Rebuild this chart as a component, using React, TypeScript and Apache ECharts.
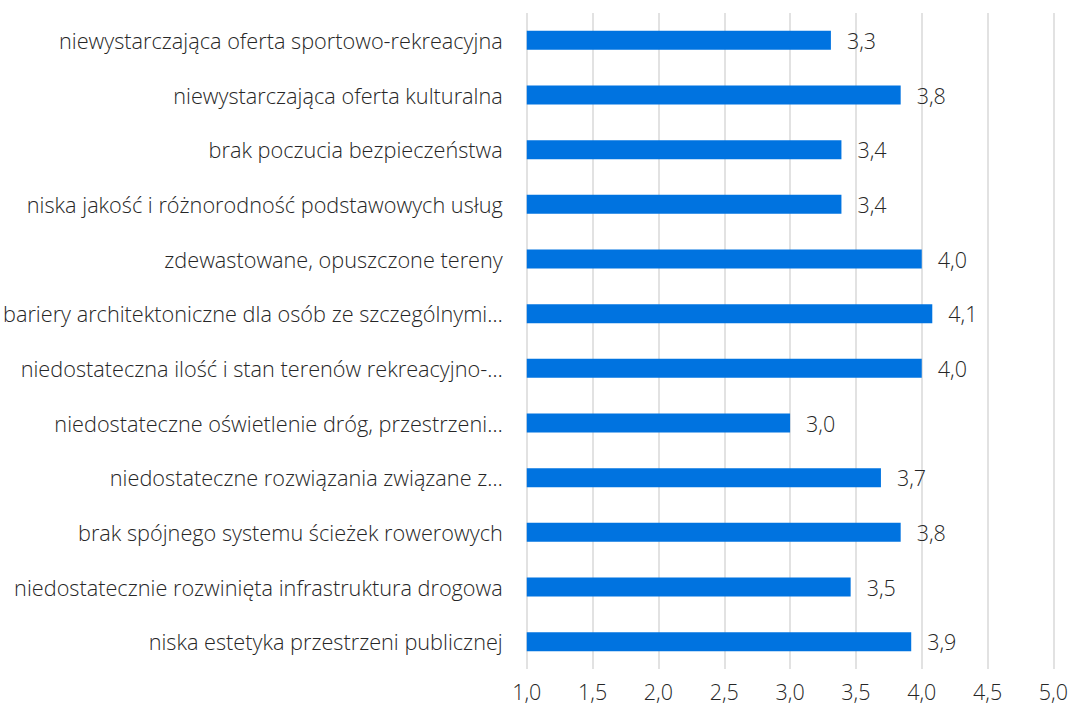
import React, { useEffect, useRef } from "react";
import * as echarts from "echarts";

const categories = [
  "niewystarczająca oferta sportowo-rekreacyjna",
  "niewystarczająca oferta kulturalna",
  "brak poczucia bezpieczeństwa",
  "niska jakość i różnorodność podstawowych usług",
  "zdewastowane, opuszczone tereny",
  "bariery architektoniczne dla osób ze szczególnymi…",
  "niedostateczna ilość i stan terenów rekreacyjno-…",
  "niedostateczne oświetlenie dróg, przestrzeni…",
  "niedostateczne rozwiązania związane z…",
  "brak spójnego systemu ścieżek rowerowych",
  "niedostatecznie rozwinięta infrastruktura drogowa",
  "niska estetyka przestrzeni publicznej",
];
const values = [3.31, 3.84, 3.39, 3.39, 4.0, 4.08, 4.0, 3.0, 3.69, 3.84, 3.46, 3.92];
const tickLabels = ["1,0", "1,5", "2,0", "2,5", "3,0", "3,5", "4,0", "4,5", "5,0"];

const FONT = "Open Sans";
const TEXT = "#262626";

export default function App() {
  const ref = useRef<HTMLDivElement>(null);
  useEffect(() => {
    document.body.style.margin = "0";
    const chart = echarts.init(ref.current!, undefined, { renderer: "svg" });
    chart.setOption({
      animation: false,
      grid: { left: 524, right: 17, top: 13, bottom: 44, containLabel: false },
      xAxis: {
        type: "value",
        min: 1,
        max: 5,
        interval: 0.5,
        axisLine: { show: false },
        axisTick: { show: false },
        splitLine: { show: true, lineStyle: { color: "#d9d9d9", width: 1.5 } },
        axisLabel: {
          margin: 11,
          fontSize: 21.5,
          fontFamily: FONT,
          fontWeight: 300,
          color: TEXT,
          formatter: (v: number) => tickLabels[Math.round((v - 1) / 0.5)] ?? "",
        },
      },
      yAxis: {
        type: "category",
        data: categories,
        inverse: true,
        axisLine: { show: false },
        axisTick: { show: false },
        axisLabel: {
          margin: 24,
          fontSize: 21.7,
          fontFamily: FONT,
          fontWeight: 300,
          color: TEXT,
        },
      },
      series: [
        {
          type: "bar",
          data: values,
          barWidth: 19,
          itemStyle: { color: "#0073e0" },
          label: {
            show: true,
            position: "right",
            distance: 16,
            fontSize: 21.5,
            fontFamily: FONT,
            fontWeight: 300,
            color: TEXT,
            formatter: (p: any) => p.value.toFixed(1).replace(".", ","),
          },
        },
      ],
    });
    return () => chart.dispose();
  }, []);
  return <div ref={ref} style={{ width: 1071, height: 713 }} />;
}
